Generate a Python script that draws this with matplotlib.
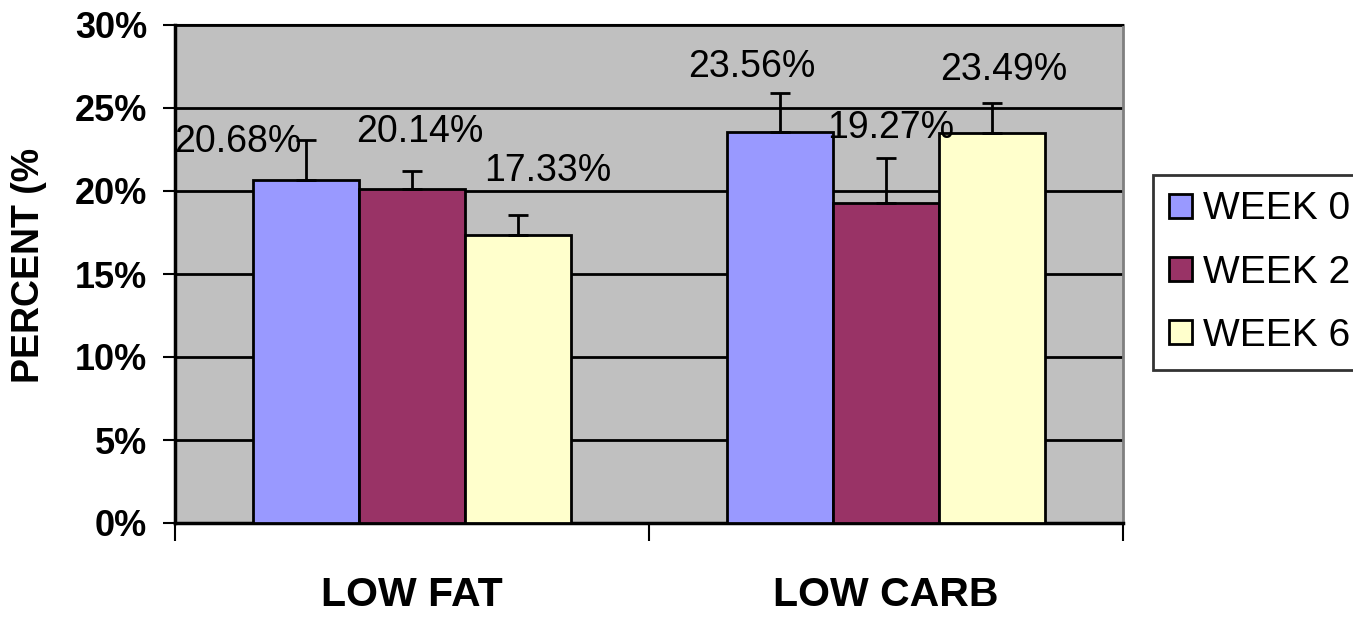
import matplotlib
matplotlib.use("Agg")
import matplotlib.pyplot as plt
from matplotlib.patches import Patch
import numpy as np

plt.rcParams['font.family'] = ['Liberation Sans', 'DejaVu Sans']

# Data
categories = ["LOW FAT", "LOW CARB"]
series_names = ["WEEK 0", "WEEK 2", "WEEK 6"]
week0 = [20.68, 23.56]
week2 = [20.14, 19.27]
week6 = [17.33, 23.49]
err_week0 = [2.39, 2.32]
err_week2 = [1.08, 2.70]
err_week6 = [1.22, 1.83]
ytick_values = [0, 5, 10, 15, 20, 25, 30]
ytick_labels = ["0%", "5%", "10%", "15%", "20%", "25%", "30%"]

colors = ["#9999FF", "#993366", "#FFFFCC"]
values = [week0, week2, week6]
errors = [err_week0, err_week2, err_week6]

# label placement (pixel offsets of each value label from its bar top)
label_offsets = [
    [(-68, 38), (-28, 65)],
    [(8, 57), (5, 75)],
    [(30, 64), (12, 63)],
]

W, H = 1353, 617
fig = plt.figure(figsize=(W / 100, H / 100), dpi=100)
ax = fig.add_axes([175 / W, (H - 523) / H, 948 / W, 498 / H])
ax.set_facecolor("#C0C0C0")

x = np.arange(len(categories))
bw = 0.223
offsets = [-bw, 0.0, bw]

for i in range(3):
    xs = x + offsets[i]
    ax.bar(xs, values[i], width=bw, color=colors[i], edgecolor="black",
           linewidth=2, zorder=3)
    ax.errorbar(xs, values[i], yerr=[np.zeros(len(xs)), errors[i]],
                fmt="none", ecolor="black", elinewidth=2, capsize=7,
                capthick=2, zorder=4)
    for j in range(len(xs)):
        dx, dy = label_offsets[i][j]
        ax.annotate(f"{values[i][j]:.2f}%", xy=(xs[j], values[i][j]),
                    xytext=(dx, dy), textcoords="offset pixels",
                    ha="center", va="center", fontsize=27, color="black",
                    zorder=5)

ax.set_xlim(-0.5, 1.5)
ax.set_ylim(0, 30)

# gridlines
for v in ytick_values[1:]:
    ax.axhline(v, color="black", linewidth=2, zorder=1)

ax.set_yticks(ytick_values)
ax.set_yticklabels(ytick_labels, fontsize=26, fontweight="bold")
ax.tick_params(axis="y", direction="out", length=9, width=1.5, pad=11)

# category separators as major ticks; labels at category centers
ax.set_xticks([-0.5, 0.5, 1.5])
ax.set_xticklabels([])
ax.tick_params(axis="x", direction="out", length=13, width=1.5)
for xi, name in zip(x, categories):
    ax.text(xi, (523 - 606) / 498, name, transform=ax.get_xaxis_transform(),
            ha="center", va="baseline", fontsize=29.5, fontweight="bold")

for side in ["left", "bottom"]:
    ax.spines[side].set_color("black")
    ax.spines[side].set_linewidth(2.5)
ax.spines["top"].set_color("black")
ax.spines["top"].set_linewidth(1.5)
ax.spines["right"].set_color("#808080")
ax.spines["right"].set_linewidth(2)

fig.text(29 / W, 1 - 265 / H, "PERCENT (%", rotation=90, ha="center",
         va="center", fontsize=27, fontweight="bold")

handles = [Patch(facecolor=c, edgecolor="black", linewidth=2) for c in colors]
leg = fig.legend(handles, series_names, loc="upper left",
                 bbox_to_anchor=(1153 / W, 1 - 175 / H), fontsize=28,
                 frameon=True, fancybox=False, handlelength=0.57,
                 handleheight=0.57, handletextpad=0.3, labelspacing=0.7,
                 borderpad=0.42, borderaxespad=0)
leg.get_frame().set_edgecolor("black")
leg.get_frame().set_linewidth(2)

fig.savefig("out.png", dpi=100)
